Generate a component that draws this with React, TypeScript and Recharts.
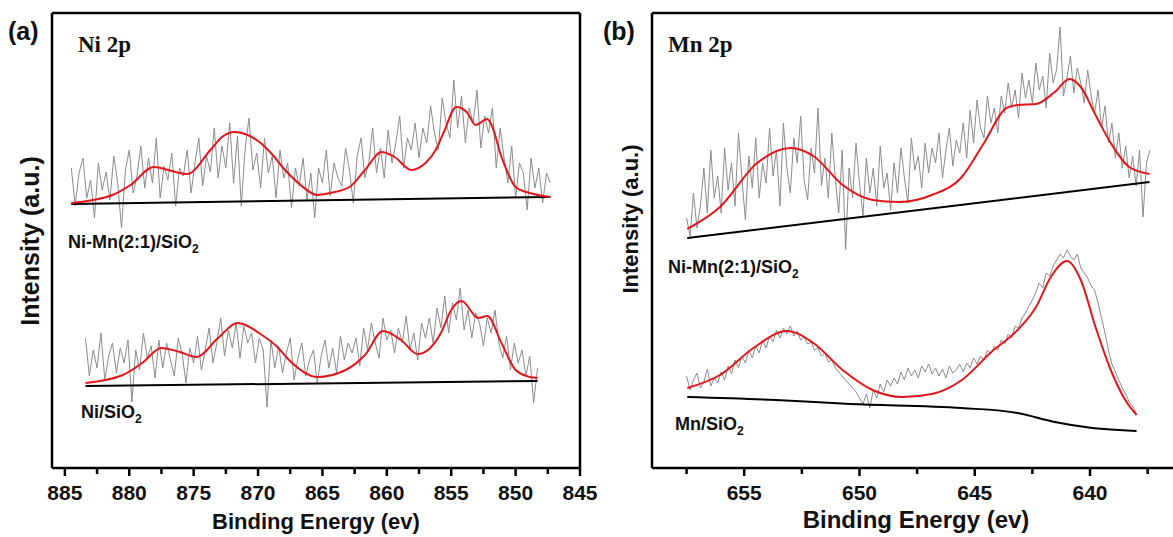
import React from "react";
import { LineChart, Line, XAxis, YAxis, ReferenceLine } from "recharts";

// (a) Ni 2p — x in eV, y in arbitrary units (pixels above the axis)
const aTicks = [885, 882.5, 880, 877.5, 875, 872.5, 870, 867.5, 865, 862.5, 860, 857.5, 855, 852.5, 850, 847.5, 845];

// Ni-Mn(2:1)/SiO2 raw counts, 884.5 eV down in 0.3 eV steps
const aTopStart = 884.5;
const aTopRaw = [
  300, 262, 295, 310, 270, 288, 250, 305, 278, 296,
  268, 312, 285, 240, 298, 318, 275, 292, 322, 280,
  310, 285, 330, 270, 302, 288, 315, 262, 300, 292,
  318, 275, 305, 330, 282, 312, 296, 340, 290, 322,
  300, 345, 285, 332, 262, 320, 350, 298, 315, 280,
  330, 295, 312, 270, 318, 290, 305, 260, 300, 282,
  310, 268, 295, 250, 300, 285, 318, 272, 305, 290,
  282, 320, 298, 265, 312, 330, 290, 305, 340, 295,
  320, 290, 338, 305, 325, 352, 300, 330, 318, 345,
  310, 340, 325, 362, 335, 318, 370, 345, 330, 388,
  340, 372, 325, 360, 345, 378, 320, 352, 335, 360,
  300, 340, 310, 285, 322, 270, 305, 295, 258, 310,
  280, 300, 265, 295, 285,
];
const aTopFitE = [884.5, 882.8, 881.3, 879.9, 878.1, 876.7, 875.5, 873.7, 872.8, 871.8, 870.8, 869.9, 869.0, 867.9, 866.7, 865.4, 864.4, 862.9, 861.7, 860.4, 859.4, 858.1, 857.0, 856.2, 855.6, 854.6, 853.8, 853.1, 852.2, 851.8, 851.2, 850.6, 850.0, 848.9, 847.3];
const aTopFitI = [265, 268, 273, 283, 301, 297, 294, 318, 331, 336, 333, 326, 315, 298, 283, 273, 275, 281, 298, 316, 311, 298, 305, 318, 335, 361, 356, 343, 349, 341, 315, 295, 281, 275, 271];
const aTopBaseE = [884.5, 847.3];
const aTopBaseI = [264, 271];

// Ni/SiO2 raw counts, 883.4 eV down in 0.3 eV steps
const aBotStart = 883.4;
const aBotRaw = [
  130, 92, 118, 100, 135, 88, 112, 125, 95, 120,
  105, 128, 66, 118, 98, 135, 110, 122, 90, 128,
  100, 125, 108, 92, 130, 115, 85, 120, 105, 132,
  98, 118, 140, 105, 125, 150, 112, 138, 120, 145,
  110, 142, 125, 135, 105, 130, 118, 61, 128, 100,
  122, 95, 115, 130, 88, 110, 125, 92, 108, 118,
  85, 112, 128, 100, 120, 95, 132, 108, 125, 115,
  130, 102, 140, 118, 145, 125, 110, 150, 128, 138,
  115, 140, 125, 152, 118, 135, 108, 145, 130, 150,
  125, 160, 140, 172, 135, 165, 148, 180, 138, 158,
  130, 155, 145, 122, 150, 135, 158, 125, 110, 132,
  98, 125, 105, 118, 92, 112, 65, 100,
];
const aBotFitE = [883.4, 880.5, 879.0, 877.5, 876.1, 874.8, 873.1, 871.6, 869.7, 868.5, 867.6, 865.4, 863.2, 861.7, 860.3, 858.9, 857.6, 855.8, 855.0, 854.2, 852.9, 852.2, 851.1, 850.0, 848.9, 848.3];
const aBotFitI = [85, 93, 105, 120, 116, 111, 130, 145, 133, 121, 108, 91, 98, 113, 137, 128, 114, 135, 158, 167, 150, 152, 125, 98, 91, 90];
const aBotBaseE = [883.4, 848.3];
const aBotBaseI = [82, 87];

// (b) Mn 2p
const bTicks = [657.5, 655, 652.5, 650, 647.5, 645, 642.5, 640, 637.5];

// Ni-Mn(2:1)/SiO2 raw counts, 657.5 eV down in 0.15 eV steps
const bTopStart = 657.5;
const bTopRaw = [
  250, 232, 275, 240, 262, 300, 255, 318, 270, 292,
  255, 320, 278, 305, 262, 335, 290, 248, 312, 280,
  330, 270, 305, 285, 340, 292, 318, 262, 345, 300,
  275, 330, 305, 352, 288, 268, 320, 295, 360, 282,
  310, 270, 335, 290, 255, 318, 218, 300, 270, 325,
  285, 252, 310, 275, 300, 262, 322, 280, 295, 258,
  305, 275, 320, 290, 265, 330, 298, 312, 280, 325,
  295, 320, 305, 335, 290, 318, 340, 302, 328, 315,
  345, 310, 358, 325, 368, 340, 330, 372, 345, 360,
  335, 372, 355, 385, 360, 378, 350, 395, 370, 388,
  365, 405, 378, 392, 360, 415, 385, 398, 441, 372,
  390, 412, 375, 400, 385, 365, 398, 372, 355, 378,
  340, 362, 325, 345, 310, 335, 300, 322, 290, 312,
  282, 318, 251, 305, 318,
];
const bTopFitE = [657.47, 656.05, 654.44, 652.98, 652.0, 650.73, 649.43, 648.3, 646.86, 645.56, 644.6, 643.63, 643.14, 642.34, 641.53, 640.89, 640.4, 639.76, 639.1, 638.3, 637.42];
const bTopFitI = [239, 261, 305, 320, 312, 283, 268, 266, 273, 291, 325, 360, 363, 364, 376, 389, 381, 353, 325, 301, 294];
const bTopBaseE = [657.47, 637.42];
const bTopBaseI = [230, 286];

// Mn/SiO2 raw counts, 657.5 eV down in 0.15 eV steps
const bBotStart = 657.5;
const bBotRaw = [
  92, 78, 88, 95, 80, 86, 99, 82, 90, 85,
  96, 88, 102, 94, 108, 100, 112, 105, 118, 110,
  122, 115, 128, 120, 132, 126, 138, 130, 140, 134,
  142, 132, 137, 128, 131, 124, 126, 118, 120, 112,
  115, 106, 108, 100, 96, 92, 88, 84, 80, 76,
  70, 64, 74, 60, 78, 70, 84, 76, 88, 82,
  90, 84, 96, 88, 100, 92, 98, 90, 102, 96,
  104, 94, 100, 92, 99, 90, 102, 95, 98, 104,
  96, 105, 100, 110, 104, 112, 108, 118, 114, 122,
  118, 128, 124, 134, 130, 142, 140, 150, 155, 162,
  168, 176, 185, 180, 195, 192, 202, 208, 214, 210,
  218, 212, 208, 214, 200, 195, 190, 182, 178, 165,
  150, 135, 118, 104, 96, 88, 80, 74, 66, 62, 55,
];
const bBotFitE = [657.47, 656.05, 654.6, 653.15, 652.0, 650.73, 649.43, 648.14, 646.86, 645.56, 644.28, 643.14, 642.34, 641.7, 641.0, 640.4, 639.76, 639.1, 638.47, 637.98];
const bBotFitI = [80, 93, 120, 137, 125, 98, 78, 71, 74, 88, 116, 138, 161, 191, 207, 188, 141, 98, 68, 53];
const bBotBaseE = [657.47, 653.63, 650.4, 645.56, 643.14, 641.53, 639.9, 637.98];
const bBotBaseI = [71, 68, 64, 60, 55, 46, 40, 37];

const GRAY = "#8c8c8c";
const RED = "#e3161b";
const SANS = "'Liberation Sans', Arial, sans-serif";
const Y_MAX = 455;

const pairs = (es: number[], vs: number[]) => es.map((e, i) => ({ e, v: vs[i] }));
const stepped = (start: number, step: number, vs: number[]) =>
  vs.map((v, i) => ({ e: +(start - step * i).toFixed(2), v }));

function AxisTick(props: any) {
  const { x, y, payload } = props;
  const major = payload.value % 5 === 0;
  return (
    <g>
      <line x1={x} x2={x} y1={y} y2={y + (major ? 8 : 6)} stroke="#000" strokeWidth={2.5} />
      {major && (
        <text x={x} y={y + 32} textAnchor="middle" fontFamily={SANS} fontWeight="bold" fontSize={21} fill="#111">
          {payload.value}
        </text>
      )}
    </g>
  );
}

const frame = { stroke: "#000", strokeWidth: 2.5 };

// raw trace (gray), background (black), fit envelope (red)
const series = (key: string, raw: any[], fit: any[], base: any[], curvedBase = false) => [
  <Line key={key + "r"} data={raw} dataKey="v" type="linear" stroke={GRAY} strokeWidth={1} dot={false} activeDot={false} isAnimationActive={false} />,
  <Line key={key + "b"} data={base} dataKey="v" type={curvedBase ? "monotone" : "linear"} stroke="#000" strokeWidth={2} dot={false} activeDot={false} isAnimationActive={false} />,
  <Line key={key + "f"} data={fit} dataKey="v" type="monotone" stroke={RED} strokeWidth={2} dot={false} activeDot={false} isAnimationActive={false} />,
];

export default function App() {
  return (
    <div style={{ position: "absolute", left: 0, top: 0, width: 1173, height: 537, overflow: "hidden", background: "#fff" }}>
      <div style={{ position: "absolute", left: 0, top: 0 }}>
        <LineChart width={600} height={537} margin={{ top: 13, right: 20, bottom: 9, left: 52 }}>
          <XAxis dataKey="e" type="number" domain={[845, 886]} reversed allowDataOverflow ticks={aTicks} interval={0}
            tick={<AxisTick />} tickLine={false} tickSize={0} tickMargin={0} height={60} axisLine={frame} />
          <YAxis hide type="number" domain={[0, Y_MAX]} allowDataOverflow />
          <ReferenceLine y={Y_MAX} {...frame} />
          <ReferenceLine x={886} {...frame} />
          <ReferenceLine x={845} {...frame} />
          {series("at", stepped(aTopStart, 0.3, aTopRaw), pairs(aTopFitE, aTopFitI), pairs(aTopBaseE, aTopBaseI))}
          {series("ab", stepped(aBotStart, 0.3, aBotRaw), pairs(aBotFitE, aBotFitI), pairs(aBotBaseE, aBotBaseI))}
        </LineChart>
      </div>
      <div style={{ position: "absolute", left: 600, top: 0 }}>
        <LineChart width={573} height={537} margin={{ top: 13, right: 0, bottom: 9, left: 52 }}>
          <XAxis dataKey="e" type="number" domain={[636.4, 659]} reversed allowDataOverflow ticks={bTicks} interval={0}
            tick={<AxisTick />} tickLine={false} tickSize={0} tickMargin={0} height={60} axisLine={frame} />
          <YAxis hide type="number" domain={[0, Y_MAX]} allowDataOverflow />
          <ReferenceLine y={Y_MAX} {...frame} />
          <ReferenceLine x={659} {...frame} />
          {series("bt", stepped(bTopStart, 0.15, bTopRaw), pairs(bTopFitE, bTopFitI), pairs(bTopBaseE, bTopBaseI))}
          {series("bb", stepped(bBotStart, 0.15, bBotRaw), pairs(bBotFitE, bBotFitI), pairs(bBotBaseE, bBotBaseI), true)}
        </LineChart>
      </div>
      <svg width={1173} height={537} style={{ position: "absolute", left: 0, top: 0, pointerEvents: "none" }}>
        <g fontFamily={SANS} fontWeight="bold" fill="#111">
          <text x={8} y={40} fontSize={25}>(a)</text>
          <text x={603} y={40} fontSize={25}>(b)</text>
          <text x={30} y={241} fontSize={25} textAnchor="middle" dominantBaseline="central" transform="rotate(-90 30 241)">Intensity (a.u.)</text>
          <text x={630} y={219} fontSize={22} textAnchor="middle" dominantBaseline="central" transform="rotate(-90 630 219)">Intensity (a.u.)</text>
          <text x={316} y={529} fontSize={22} textAnchor="middle">Binding Energy (ev)</text>
          <text x={916} y={528} fontSize={24} textAnchor="middle">Binding Energy (ev)</text>
          <text x={68} y={248} fontSize={18}>Ni-Mn(2:1)/SiO<tspan fontSize={12} dy={5}>2</tspan></text>
          <text x={81} y={418} fontSize={18}>Ni/SiO<tspan fontSize={12} dy={5}>2</tspan></text>
          <text x={668} y={273} fontSize={18}>Ni-Mn(2:1)/SiO<tspan fontSize={12} dy={5}>2</tspan></text>
          <text x={675} y={430} fontSize={18}>Mn/SiO<tspan fontSize={12} dy={5}>2</tspan></text>
        </g>
        <g fontFamily="'Liberation Serif', 'Times New Roman', serif" fontWeight="bold" fill="#111" fontSize={23}>
          <text x={78} y={52}>Ni 2p</text>
          <text x={668} y={52}>Mn 2p</text>
        </g>
      </svg>
    </div>
  );
}
